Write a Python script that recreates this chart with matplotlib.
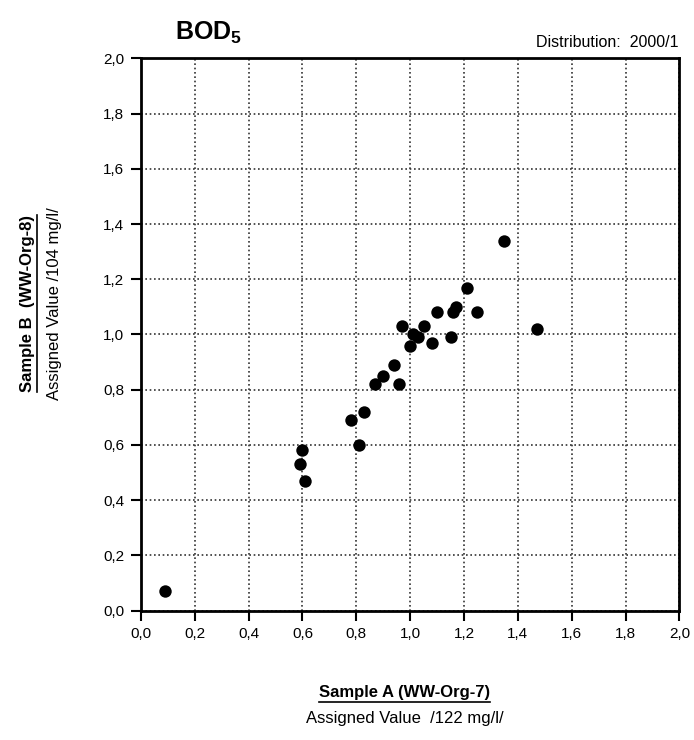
import matplotlib
matplotlib.use("Agg")
import matplotlib.pyplot as plt
from matplotlib.lines import Line2D
import numpy as np

plt.rcParams['font.family'] = ['Liberation Sans', 'DejaVu Sans']
plt.rcParams['mathtext.fontset'] = 'custom'
plt.rcParams['mathtext.rm'] = 'Liberation Sans'
plt.rcParams['mathtext.bf'] = 'Liberation Sans:bold'

sample_a = [0.09, 0.60, 0.59, 0.61, 0.78, 0.81, 0.83, 0.87, 0.90, 0.94, 0.96,
            0.97, 1.00, 1.01, 1.03, 1.05, 1.08, 1.10, 1.15, 1.16, 1.17, 1.21,
            1.25, 1.35, 1.47]
sample_b = [0.07, 0.58, 0.53, 0.47, 0.69, 0.60, 0.72, 0.82, 0.85, 0.89, 0.82,
            1.03, 0.96, 1.00, 0.99, 1.03, 0.97, 1.08, 0.99, 1.08, 1.10, 1.17,
            1.08, 1.34, 1.02]
ticks = [0.0, 0.2, 0.4, 0.6, 0.8, 1.0, 1.2, 1.4, 1.6, 1.8, 2.0]
tick_labels = ["0,0", "0,2", "0,4", "0,6", "0,8", "1,0", "1,2", "1,4", "1,6", "1,8", "2,0"]

fig = plt.figure(figsize=(6.94, 7.40), dpi=100)
ax = fig.add_axes([0.203, 0.175, 0.776, 0.746])
ax.scatter(sample_a, sample_b, s=80, color='black', zorder=3, linewidths=0)
ax.set_xlim(0, 2)
ax.set_ylim(0, 2)
ax.set_xticks(ticks)
ax.set_yticks(ticks)
ax.set_xticklabels(tick_labels, fontsize=11)
ax.set_yticklabels(tick_labels, fontsize=11)
ax.grid(True, linestyle=(0, (1, 1.6)), color='#333333', linewidth=1.2)
for s in ax.spines.values():
    s.set_linewidth(2)
ax.tick_params(direction='out', length=7, width=1.5, pad=5)

fig.text(0.252, 0.955, r"BOD$_{\mathbf{5}}$", fontsize=18, fontweight='bold', ha='left', va='center')
fig.text(0.978, 0.943, "Distribution:  2000/1", fontsize=11.5, ha='right', va='center')

tx1 = fig.text(0.583, 0.064, "Sample A (WW-Org-7)", fontsize=12, fontweight='bold', ha='center', va='center')
fig.text(0.583, 0.029, "Assigned Value  /122 mg/l/", fontsize=12, ha='center', va='center')
ty1 = fig.text(0.040, 0.59, "Sample B  (WW-Org-8)", fontsize=12, fontweight='bold', ha='center', va='center', rotation=90)
fig.text(0.078, 0.59, "Assigned Value /104 mg/l/", fontsize=12, ha='center', va='center', rotation=90)

fig.canvas.draw()
r = fig.canvas.get_renderer()
inv = fig.transFigure.inverted()
bb = tx1.get_window_extent(r).transformed(inv)
fig.add_artist(Line2D([bb.x0, bb.x1], [bb.y0 - 0.002, bb.y0 - 0.002], color='black', lw=1.2, transform=fig.transFigure))
bb = ty1.get_window_extent(r).transformed(inv)
fig.add_artist(Line2D([bb.x1 + 0.003, bb.x1 + 0.003], [bb.y0, bb.y1], color='black', lw=1.2, transform=fig.transFigure))

fig.savefig("out.png", dpi=100)
